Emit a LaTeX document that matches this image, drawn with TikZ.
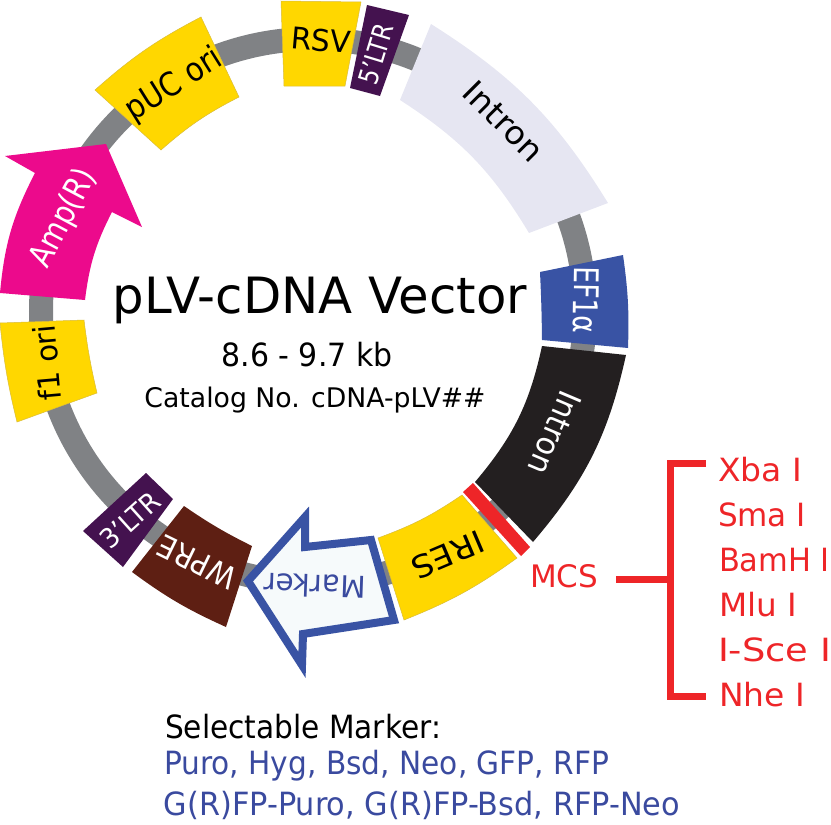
\documentclass[tikz,border=0pt]{standalone}
\usepackage{fontspec}
\usepackage{graphicx}
\setmainfont{DejaVu Sans}
\definecolor{ringgray}{HTML}{808285}
\definecolor{geneyellow}{HTML}{FFD700}
\definecolor{yellowedge}{HTML}{D9BC3A}
\definecolor{ampmag}{HTML}{EC0A8C}
\definecolor{ltrpurple}{HTML}{44124F}
\definecolor{wprebrown}{HTML}{5E1F13}
\definecolor{intronblack}{HTML}{231F20}
\definecolor{intronlav}{HTML}{E6E6F2}
\definecolor{efblue}{HTML}{3953A4}
\definecolor{markfill}{HTML}{F6FAFB}
\definecolor{mcsred}{HTML}{EE2528}
\definecolor{textblue}{HTML}{3A4A9F}
\newcommand{\fitw}[3]{\resizebox{#1pt}{\height}{\fontsize{#2pt}{#2pt}\selectfont #3}}
\tikzset{
  yellowgene/.style={fill=geneyellow,draw=yellowedge,line width=0.5pt},
  lbl/.style={inner sep=0pt,outer sep=0pt,anchor=center},
  bracketline/.style={draw=mcsred,line width=7pt}
}
\begin{document}
\begin{tikzpicture}[x=1pt,y=-1pt]
\useasboundingbox (0,0) rectangle (831,825);
% ring
\coordinate (ctr) at (313,311);
\draw[ringgray,line width=24pt] (ctr) circle[radius=272pt];
% genes
\fill[intronlav] (431,24) to[bend left=13] (608,203) -- (529,233) to[bend right=13] (400,100) -- cycle;
\fill[efblue] (540,272) -- (623,255) to[bend left=5] (628,348) -- (542,340) to[bend right=1] cycle;
\fill[intronblack] (542,346) -- (626,355) to[bend left=14] (533,542) -- (475,482) to[bend right=14] cycle;
\fill[mcsred] (463,492) -- (473,483) -- (530,547) -- (521,556) -- cycle;
\path[yellowgene] (378,538) to[bend right=7] (462,495) -- (517,558) to[bend left=7] (404,620) -- cycle;
\fill[wprebrown] (184,506) to[bend right=4] (252,546) -- (226,627) to[bend left=6] (132,572) -- cycle;
\fill[ltrpurple] (146,473) -- (173,499) -- (123,567) -- (83,531) -- cycle;
\path[yellowgene] (0,323) -- (84,320) to[bend right=3] (97,393) -- (17,422) to[bend left=4] cycle;
\fill[ampmag] (5,156) -- (106,144) -- (142,227) -- (112,212) to[bend right=10] (85,300) -- (0,293) to[bend left=11] (35,173) -- cycle;
\path[yellowgene] (95,90) to[bend left=7] (201,17) -- (239,97) to[bend right=7] (161,150) -- cycle;
\path[yellowgene] (281,1) -- (361,2) -- (345,86) -- (284,86) -- cycle;
\fill[ltrpurple] (367,5) -- (409,15) -- (380,96) -- (350,88) -- cycle;
\draw[efblue,line width=8pt,fill=markfill,miter limit=10] (248,581) -- (305,517) -- (305,547) -- (371,540) -- (394,620) -- (303,634) -- (302,665) -- cycle;
% gene labels
\node[lbl,rotate=-5] (lrsv) at (321,40) {\fitw{60}{30}{RSV}};
\node[lbl,rotate=73,text=white] (lltr5) at (376,54) {\fitw{62}{27}{5'LTR}};
\node[lbl,rotate=32] (lpuc) at (174,85) {\fitw{107}{33}{pUC ori}};
\node[lbl,rotate=62,text=white] (lamp) at (64,218) {\fitw{106}{33}{Amp(R)}};
\node[lbl,rotate=95] (lf1) at (47,363) {\fitw{76}{30}{f1 ori}};
\node[lbl,rotate=42,text=white] (lltr3) at (130,520) {\fitw{70}{27}{3'LTR}};
\node[lbl,rotate=154,text=white] (lwpre) at (197,562) {\fitw{83}{31}{WPRE}};
\node[lbl,rotate=178,text=textblue] (lmark) at (315,586) {\fitw{102}{30}{Marker}};
\node[lbl,rotate=203] (lires) at (448,555) {\fitw{76}{31}{IRES}};
\node[lbl,rotate=-113,text=white] (lint2) at (555,433) {\fitw{88}{32}{Intron}};
\node[lbl,rotate=-45] (lint1) at (504,121) {\fitw{99}{32}{Intron}};
\node[lbl,rotate=-91,text=white] (lef) at (586,300) {\fitw{67}{34}{EF1α}};
% centre text
\node[lbl] (title) at (320,300) {\fitw{414}{50}{pLV-cDNA Vector}};
\node[lbl] (size) at (307,355) {\fitw{171}{32}{8.6 - 9.7 kb}};
\node[lbl] (cat) at (315,400) {\fitw{341}{27}{Catalog No. cDNA-pLV\#\#}};
% MCS
\node[lbl,text=mcsred] (mcs) at (564,576) {\fitw{68}{31}{MCS}};
\coordinate (stem) at (616,579);
\coordinate (btop) at (706,463);
\coordinate (bbot) at (706,696);
\coordinate (bmid) at (670,579);
\draw[bracketline,line cap=butt,line join=miter] (btop) -- (670,463) -- (670,696) -- (bbot);
\draw[bracketline] (stem) -- (bmid);
\node[lbl,text=mcsred] (xba) at (760,470) {\fitw{84}{32}{Xba I}};
\node[lbl,text=mcsred] (sma) at (762,515) {\fitw{88}{32}{Sma I}};
\node[lbl,text=mcsred] (bam) at (774.5,560) {\fitw{111}{32}{BamH I}};
\node[lbl,text=mcsred] (mlu) at (758,605) {\fitw{78}{32}{Mlu I}};
\node[lbl,text=mcsred] (sce) at (774.5,650) {\fitw{113}{32}{I-Sce I}};
\node[lbl,text=mcsred] (nhe) at (762,695) {\fitw{86}{32}{Nhe I}};
% bottom text
\node[lbl] (sel) at (303,727) {\fitw{276}{32}{Selectable Marker:}};
\node[lbl,text=textblue] (sel1) at (386.5,766) {\fitw{445}{32}{Puro, Hyg, Bsd, Neo, GFP, RFP}};
\node[lbl,text=textblue] (sel2) at (422,805) {\fitw{516}{32}{G(R)FP-Puro, G(R)FP-Bsd, RFP-Neo}};
\end{tikzpicture}
\end{document}
